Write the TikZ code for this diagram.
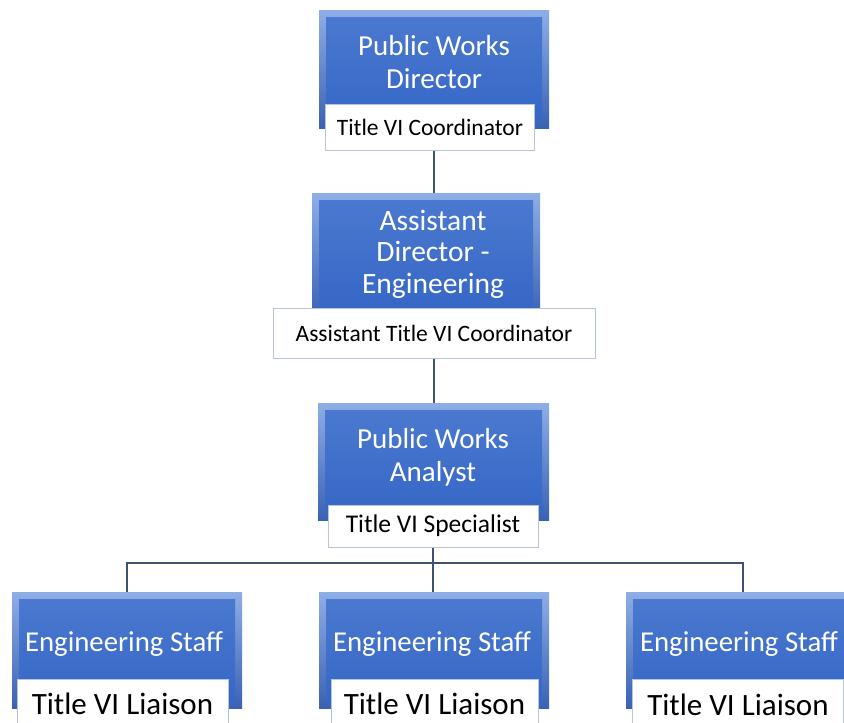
\documentclass[tikz,border=0pt]{standalone}
\usepackage{fontspec}
\setmainfont{Carlito}
\definecolor{bevtop}{HTML}{8EAEE6}
\definecolor{bevbot}{HTML}{3A62B4}
\definecolor{intop}{HTML}{4C7AD0}
\definecolor{inbot}{HTML}{3566C6}
\definecolor{conn}{HTML}{3F5272}
\definecolor{lblborder}{HTML}{B8C4D8}
\tikzset{
  bluebox/.style={rectangle, inner sep=0pt, draw=none,
    top color=bevtop, bottom color=bevbot,
    path picture={\shade[top color=intop, bottom color=inbot]
      ([shift={(7pt,-7pt)}]path picture bounding box.north west) rectangle
      ([shift={(-7pt,7pt)}]path picture bounding box.south east);}},
  bluetext/.style={text=white, align=center, font=\fontsize{29}{33}\selectfont},
  lblbox/.style={rectangle, draw=lblborder, line width=1pt, fill=white, inner sep=0pt,
    font=\fontsize{23.5}{27}\selectfont},
  biglbl/.style={lblbox, font=\fontsize{31}{34}\selectfont},
  staff/.style={bluetext, font=\fontsize{28.8}{33}\selectfont},
  connector/.style={draw=conn, line width=2pt}
}
\begin{document}
\begin{tikzpicture}[x=1pt,y=-1pt]
\useasboundingbox[fill=white] (0,0) rectangle (844,723);
% level 1
\node[bluebox, minimum width=230pt, minimum height=118pt] (b1) at (434,69) {};
\node[bluetext] (b1t) at (434,62) {Public Works\\Director};
\node[lblbox, minimum width=209pt, minimum height=46pt] (l1) at (430,127) {Title VI Coordinator};
% level 2
\node[bluebox, minimum width=228pt, minimum height=125pt] (b2) at (426,255.5) {};
\node[bluetext, font=\fontsize{29.5}{31.5}\selectfont] (b2t) at (433,254) {Assistant\\Director -\\Engineering};
\node[lblbox, minimum width=322pt, minimum height=50pt] (l2) at (434,333) {Assistant Title VI Coordinator};
% level 3
\node[bluebox, minimum width=231pt, minimum height=117pt] (b3) at (433.5,461.5) {};
\node[bluetext] (b3t) at (433,457) {Public Works\\Analyst};
\node[lblbox, font=\fontsize{25.5}{29}\selectfont, minimum width=210pt, minimum height=42pt] (l3) at (433,526) {Title VI Specialist};
% level 4
\node[bluebox, minimum width=230pt, minimum height=116pt] (b4) at (127,650) {};
\node[staff] (b4t) at (124,644) {Engineering Staff};
\node[biglbl, minimum width=211pt, minimum height=50pt] (l4) at (122.5,704) {Title VI Liaison};
\node[bluebox, minimum width=230pt, minimum height=116pt] (b5) at (434,650) {};
\node[staff] (b5t) at (432,644) {Engineering Staff};
\node[biglbl, minimum width=207pt, minimum height=50pt] (l5) at (434.5,704) {Title VI Liaison};
\node[bluebox, minimum width=234pt, minimum height=116pt] (b6) at (743,650) {};
\node[staff] (b6t) at (739,644) {Engineering Staff};
\node[biglbl, minimum width=211pt, minimum height=52pt] (l6) at (738,705) {Title VI Liaison};
% connectors
\coordinate (j) at (433,563);
\draw[connector] (b1.south |- l1.south) -- (b1.south |- b2.north);
\draw[connector] (l2.south) -- (l2.south |- b3.north);
\draw[connector] (l3.south) -- (j);
\draw[connector] (b4.north) -- (b4.north |- j) -- (b6.north |- j) -- (b6.north);
\draw[connector] (j) -- (j |- b5.north);
\end{tikzpicture}
\end{document}
